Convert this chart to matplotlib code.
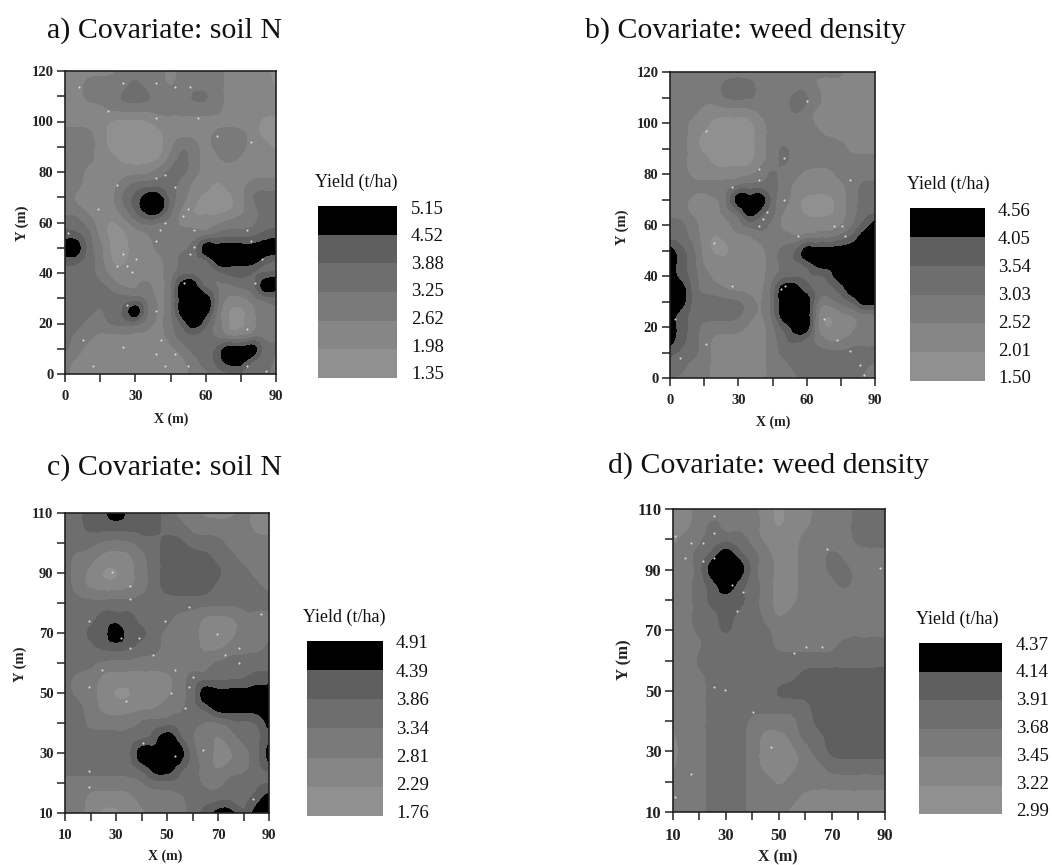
import numpy as np
import matplotlib
matplotlib.use("Agg")
import matplotlib.pyplot as plt
import matplotlib.tri as mtri
from matplotlib.ticker import MultipleLocator

W, H = 1052, 865
plt.rcParams['font.family'] = ['Liberation Serif', 'DejaVu Serif']

# class boundaries (t/ha), lowest to highest, as printed beside each legend
levels_a = [1.35, 1.98, 2.62, 3.25, 3.88, 4.52, 5.15]
levels_b = [1.50, 2.01, 2.52, 3.03, 3.54, 4.05, 4.56]
levels_c = [1.76, 2.29, 2.81, 3.34, 3.86, 4.39, 4.91]
levels_d = [2.99, 3.22, 3.45, 3.68, 3.91, 4.14, 4.37]
band_colors = ['#909090', '#868686', '#7a7a7a', '#6e6e6e', '#5f5f5f', '#000000']

# yield class read at every 5 m (0 lightest ... 5 black); first row = top of map
grid_a = """1111122221222211110
1122223221222211110
1122233322233211111
1111222222222211111
1111000011111111100
2221000001111222100
2221000001321232110
2221100002321121111
2211111123321111111
2211123333211011222
2111134553210001333
2211124553100001233
3321012322111122233
4431001122222333344
5532001122235555555
4432001112333555543
3332111112332344334
3333211212553223355
3333333212555311233
3332345312555200122
3322333212454200122
3221111112333211222
3211111011233455533
2111111111123455332
2111111111122333332""".split()

grid_b = """2222222222222222111
2222233322222111111
2222233322233211111
2221111122232111111
2211000012222111111
2210000012222211111
2210000012322232111
2211000012322222222
2211111123221112222
2222223333211111233
2211135553210001233
2211123543110001233
3321112332111111245
3321011122212223455
5431001112345555555
5431111112334555555
5432111112333345555
5532211113554334555
5533333213555223455
5433333213555101122
5432222112455101122
5432111112343211222
4332111112333333333
3322111112233333332
3222111112223333322""".split()

grid_c = """33445444322111211
33444444332222211
33322233443332222
32211123444433222
32100123444443322
32111123444433332
33333333333333333
33344433322111222
33445443222101222
33344433222112223
33322222222233333
32211111123333344
32210011123555555
33211111223455555
33222233333223335
33333334542212334
33333355553211235
33333345543212234
22222223333223333
22111122223333345
22100112223455355""".split()

grid_d = """11222221011222333
11232221011222333
12233321112222333
22345432112232222
22355532112233222
22345432112223222
22344432112222222
22334332122222222
22334333222222222
22233333222223333
22333333333333333
22233333334444444
22233333444444444
22233333333444444
22233322223444444
12233321123344444
12233321012344444
12233321112233333
22233322122222222
22233322221111111
22233322211101111""".split()

# sampling locations (m)
pts_a = [(6,113.7),(24.6,115.4),(38.8,115.4),(47,113.7),(53.3,113.7),(18.2,104),(38.8,101.5),(56.9,101.5),(65,94.2),(79.2,92),(38.8,77.5),(42.7,79),(22,74.8),(47,74.2),(14,65.2),(52.6,65.2),(50.5,62.6),(42.7,59.7),(40.5,57),(38.8,52.8),(1.4,55.7),(55.2,57),(77.5,57),(79.2,52.8),(55.2,50.2),(24.6,47.4),(53.3,47.4),(30.3,45.5),(22,42.8),(26.3,42.8),(28.4,40.2),(83.9,45.5),(50.8,36),(81,36),(26.3,27.4),(38.8,24.8),(77.5,17.8),(7.8,13.3),(40.8,13.3),(24.6,10.7),(38.8,7.9),(47,7.9),(12,3.3),(42.7,3.3),(52.6,3.3),(77.5,3.3),(85.6,1)]
pts_b = [(15.7,97),(60,108.6),(50,86.4),(39,82),(39,77.5),(27.4,75),(79,77.5),(50,69.7),(42.6,65),(40.8,62.5),(39,59.6),(72,59.6),(75.4,59.6),(56,55.6),(77,55.6),(19.5,53),(27.4,36),(50.4,36),(48.6,35),(67.5,23),(2.3,23),(73.5,15),(15.7,13.5),(4.2,7.8),(79,10.5),(83.3,5.2),(85,1)]
pts_c = [(28.3,90.4),(35.4,85.7),(35.4,81.2),(58.6,78.8),(19.4,74),(49.3,74),(87,76.4),(69.6,69.8),(32,68.4),(39,68.4),(35.4,64.9),(78.2,64.9),(44.5,62.6),(72.7,62.6),(78.2,60),(24.4,57.8),(53.3,57.8),(60.2,55.3),(19.4,52),(58.6,52),(51.6,50),(33.8,47.5),(57,45),(40.6,33.4),(64.1,31.1),(53.3,28.9),(19.4,24),(19.4,18.7),(83.7,14.8)]
pts_d = [(25.3,107.8),(25.3,102.2),(10.9,101.2),(16.8,98.9),(21.4,98.9),(14.5,93.7),(21.4,92.9),(25.3,93.7),(68.3,96.7),(88.1,90.4),(32.2,84.9),(36.4,82.6),(34,76.5),(60.1,64.6),(66.4,64.6),(55.6,62.4),(25.3,51.4),(29.7,50.1),(40.3,43),(47.1,31.3),(16.8,22.5),(10.6,15)]

titles = ['a) Covariate: soil N', 'b) Covariate: weed density',
          'c) Covariate: soil N', 'd) Covariate: weed density']

panels = [
    dict(g=grid_a, lev=levels_a, pts=pts_a, title=titles[0], x=(0, 90), y=(0, 120), xmaj=30, xmin=15, ymaj=20, ymin=10,
         box=(65, 276, 71, 374), leg=(318, 397, 206, 378), legtxt=(411, 209, 375), tt=(47, 31), yl=(315, 182), xl=(171, 419), yy=(22, 223), fs=10.5),
    dict(g=grid_b, lev=levels_b, pts=pts_b, title=titles[1], x=(0, 90), y=(0, 120), xmaj=30, xmin=15, ymaj=20, ymin=10,
         box=(670, 875, 72, 378), leg=(910, 985, 208, 381), legtxt=(998, 211, 379), tt=(585, 31), yl=(907, 184), xl=(773, 422), yy=(622, 227), fs=10.5),
    dict(g=grid_c, lev=levels_c, pts=pts_c, title=titles[2], x=(10, 90), y=(10, 110), xmaj=20, xmin=10, ymaj=20, ymin=10,
         box=(65, 269, 513, 813), leg=(307, 383, 641, 816), legtxt=(396, 644, 814), tt=(47, 468), yl=(303, 617), xl=(165, 856), yy=(20, 664), fs=10.5),
    dict(g=grid_d, lev=levels_d, pts=pts_d, title=titles[3], x=(10, 90), y=(10, 110), xmaj=20, xmin=10, ymaj=20, ymin=10,
         box=(673, 885, 509, 812), leg=(919, 1002, 643, 814), legtxt=(1016, 645, 812), tt=(608, 466), yl=(916, 619), xl=(778, 857), yy=(624, 660), fs=12),
]

fig = plt.figure(figsize=(W / 100, H / 100), dpi=100, facecolor='white')


def ax_px(x0, x1, y0, y1):
    return fig.add_axes([x0 / W, 1 - y1 / H, (x1 - x0) / W, (y1 - y0) / H])


def txt(x, y, s, **kw):
    fig.text(x / W, 1 - y / H, s, **kw)


def soften(a):
    # ease the 5 m stair-steps of the read classes; black cells stay as read
    k = np.array([1, 4, 1]) / 6
    b = np.pad(a, 1, mode='edge')
    b = np.apply_along_axis(lambda r: np.convolve(r, k, mode='same'), 0, b)
    b = np.apply_along_axis(lambda r: np.convolve(r, k, mode='same'), 1, b)
    b = b[1:-1, 1:-1]
    return np.where(a == a.max(), a, b)


for p in panels:
    lev = np.array(p['lev'])
    mids = (lev[:-1] + lev[1:]) / 2
    classes = np.array([[int(c) for c in row] for row in p['g']])
    z = soften(mids[classes])
    xs = np.linspace(p['x'][0], p['x'][1], classes.shape[1])
    ys = np.linspace(p['y'][1], p['y'][0], classes.shape[0])
    X, Y = np.meshgrid(xs, ys)

    ax = ax_px(p['box'][0], p['box'][1], p['box'][2], p['box'][3])
    tri = mtri.Triangulation(X.ravel(), Y.ravel())
    tri_fine, z_fine = mtri.UniformTriRefiner(tri).refine_field(z.ravel(), subdiv=3)
    ax.tricontourf(tri_fine, z_fine, levels=lev, colors=band_colors, antialiased=False, extend='both')
    pts = np.array(p['pts'])
    ax.scatter(pts[:, 0], pts[:, 1], s=2.2, c='#dddddd', linewidths=0, zorder=3)
    ax.set_xlim(*p['x'])
    ax.set_ylim(*p['y'])
    ax.set_xticks(np.arange(p['x'][0], p['x'][1] + 1, p['xmaj']))
    ax.set_yticks(np.arange(p['y'][0], p['y'][1] + 1, p['ymaj']))
    ax.xaxis.set_minor_locator(MultipleLocator(p['xmin']))
    ax.yaxis.set_minor_locator(MultipleLocator(p['ymin']))
    ax.tick_params(which='both', length=5.8, width=1.1, color='#222222')
    ax.tick_params(axis='x', which='major', labelsize=p['fs'], pad=6, labelcolor='#222222')
    ax.tick_params(axis='y', which='major', labelsize=p['fs'], pad=2.5, labelcolor='#222222')
    for lb in ax.get_xticklabels() + ax.get_yticklabels():
        lb.set_fontweight('bold')
    for s in ax.spines.values():
        s.set_linewidth(1.2)
        s.set_color('#222222')

    txt(p['tt'][0], p['tt'][1], p['title'], fontsize=21.5, va='center', ha='left', color='#111111')
    txt(p['yl'][0], p['yl'][1], 'Yield (t/ha)', fontsize=13, va='center', ha='left', color='#111111')
    txt(p['xl'][0], p['xl'][1], 'X (m)', fontsize=p['fs'] - 0.5, va='center', ha='center', fontweight='bold', color='#222222')
    txt(p['yy'][0], p['yy'][1], 'Y (m)', fontsize=p['fs'], va='center', ha='center', rotation=90, fontweight='bold', color='#222222')

    leg = ax_px(p['leg'][0], p['leg'][1], p['leg'][2], p['leg'][3])
    leg.bar(np.zeros(6), np.diff(lev), bottom=lev[:-1], width=1, color=band_colors, linewidth=0)
    leg.set_xlim(-0.5, 0.5)
    leg.set_ylim(lev[0], lev[-1])
    leg.axis('off')
    tx, ty0, ty1 = p['legtxt']
    for v, y in zip(lev[::-1], np.linspace(ty0, ty1, 7)):
        txt(tx, y, f'{v:.2f}', fontsize=13.5, va='center', ha='left', color='#111111')

fig.savefig('out.png', dpi=100, facecolor='white')
